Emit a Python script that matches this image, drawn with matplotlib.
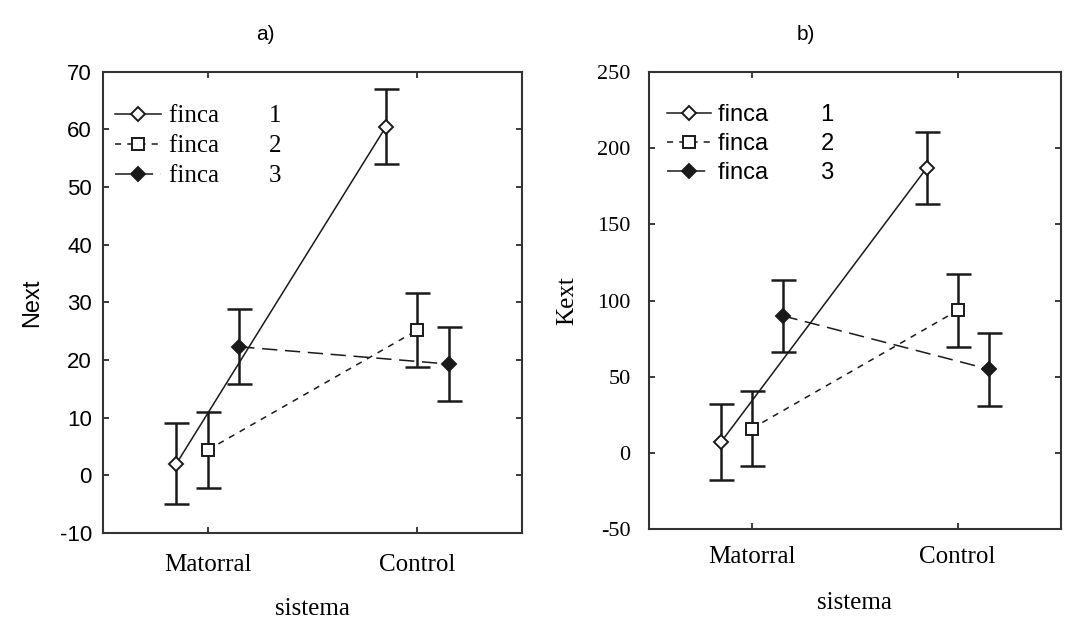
import matplotlib.pyplot as plt

# categories
sistema = ["Matorral", "Control"]
fincas = ["1", "2", "3"]

# a) Next: means and error half-widths per finca
next_f1 = [2.0, 60.5]
next_f2 = [4.4, 25.2]
next_f3 = [22.3, 19.3]
next_f1_err = [7.0, 6.5]
next_f2_err = [6.6, 6.4]
next_f3_err = [6.5, 6.4]

# b) Kext
kext_f1 = [7.0, 187.0]
kext_f2 = [16.0, 93.5]
kext_f3 = [90.0, 55.0]
kext_f1_err = [25.0, 23.5]
kext_f2_err = [24.5, 24.0]
kext_f3_err = [23.5, 24.0]

SANS = "Liberation Sans"
SERIF = "Liberation Serif"
INK = "#1a1a1a"

offsets = [-0.15, 0.0, 0.15]
styles = [
    dict(ls="-", marker="D", mfc="white", ms=7.5),
    dict(ls=(0, (4, 4)), marker="s", mfc="white", ms=8),
    dict(ls=(0, (10, 5)), marker="D", mfc=INK, ms=7.5),
]


def draw(ax, means, errs, ylim, yticks, tickfont, tsize, ypad, xpad,
         legfont, lsize, legx):
    handles = []
    for k in range(3):
        xs = [i + offsets[k] for i in range(len(sistema))]
        ax.errorbar(xs, means[k], yerr=errs[k], fmt="none", ecolor=INK,
                    elinewidth=1.8, capsize=9, capthick=1.8, zorder=2)
        st = styles[k]
        h, = ax.plot(xs, means[k], color=INK, lw=1.1, ls=st["ls"],
                     marker=st["marker"], mfc=st["mfc"], mec=INK, mew=1.4,
                     ms=st["ms"], zorder=3)
        handles.append(h)
    ax.set_xlim(-0.5, 1.5)
    ax.set_ylim(*ylim)
    ax.set_xticks(range(len(sistema)))
    ax.set_xticklabels(sistema, fontfamily=SERIF, fontsize=18)
    ax.set_yticks(yticks)
    ax.set_yticklabels([str(t) for t in yticks], fontfamily=tickfont, fontsize=tsize)
    ax.tick_params(direction="in", length=4, width=1.2, top=True, right=True,
                   color=INK)
    ax.tick_params(axis="y", pad=ypad)
    ax.tick_params(axis="x", pad=xpad)
    for sp in ax.spines.values():
        sp.set_linewidth(1.5)
        sp.set_color("#333333")
    labels = ["finca" + " " * 8 + f for f in fincas]
    leg = ax.legend(handles, labels, loc="upper left",
                    bbox_to_anchor=(legx, 0.95), borderaxespad=0, frameon=False,
                    handlelength=1.85, handletextpad=0.3, labelspacing=0.3,
                    prop=dict(family=legfont, size=lsize))
    return leg


fig = plt.figure(figsize=(10.67, 6.19), dpi=100)
ax1 = fig.add_axes([0.0965, 0.139, 0.393, 0.745])
ax2 = fig.add_axes([0.608, 0.145, 0.386, 0.739])

draw(ax1, [next_f1, next_f2, next_f3],
     [next_f1_err, next_f2_err, next_f3_err],
     (-10, 70), list(range(-10, 71, 10)), SANS, 16, 8, 15, SERIF, 18, 0.005)
draw(ax2, [kext_f1, kext_f2, kext_f3],
     [kext_f1_err, kext_f2_err, kext_f3_err],
     (-50, 250), list(range(-50, 251, 50)), SERIF, 16, 13, 12, SANS, 17, 0.022)

ax1.set_ylabel("Next", fontfamily=SANS, fontsize=17, labelpad=12)
ax2.set_ylabel("Kext", fontfamily=SERIF, fontsize=18, labelpad=14)
ax1.set_xlabel("sistema", fontfamily=SERIF, fontsize=18, labelpad=16)
ax2.set_xlabel("sistema", fontfamily=SERIF, fontsize=18, labelpad=17)

fig.text(265 / 1067, 1 - 35 / 619, "a)", fontfamily=SANS, fontsize=15,
         ha="center", va="center")
fig.text(806 / 1067, 1 - 35 / 619, "b)", fontfamily=SANS, fontsize=15,
         ha="center", va="center")

plt.savefig("out.png", dpi=100)
plt.close()
